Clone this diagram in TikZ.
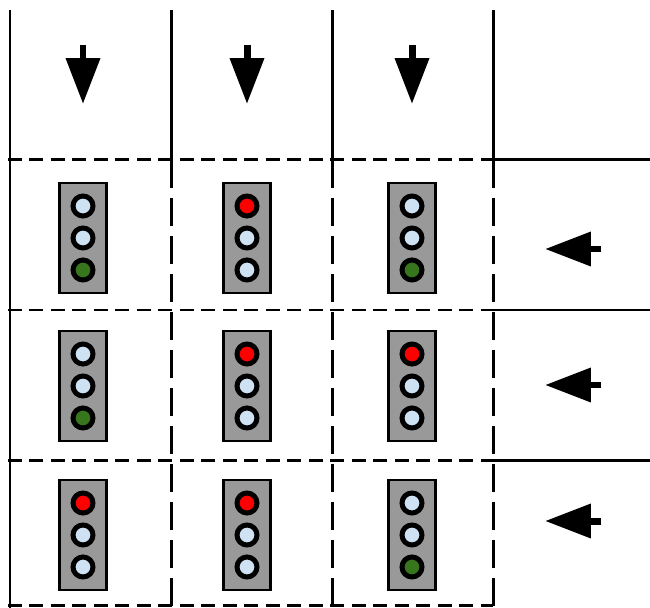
\documentclass[tikz,border=0pt]{standalone}
\usepackage{tikz}
\usetikzlibrary{arrows.meta}

\definecolor{boxgray}{HTML}{999999}
\definecolor{lampoff}{HTML}{CFE2F3}
\definecolor{lampred}{HTML}{FF0000}
\definecolor{lampgreen}{HTML}{38761D}

\tikzset{
  kerb/.style={black, line width=0.06 cm},
  hdash/.style={black, line width=0.06 cm, dash pattern=on 0.28cm off 0.15cm},
  vdash/.style={black, line width=0.06 cm, dash pattern=on 0.56cm off 0.2cm},
  lightbox/.style={draw=black, fill=boxgray, line width=0.05 cm, minimum width=0.95cm, minimum height=2.2cm, inner sep=0pt},
  lamp/.style={circle, draw=black, fill=lampoff, line width=0.1 cm, minimum size=0.4cm, inner sep=0pt},
  flow/.style={black, line width=0.14 cm, -{Triangle[length=0.92cm,width=0.66cm]}}
}

\newcommand{\trafficlight}[4]{% name, position, top lamp, bottom lamp
  \node[lightbox] (#1) at (#2) {};
  \node[lamp, fill=#3] (#1-top) at ([yshift=0.64cm]#1.center) {};
  \node[lamp] (#1-mid) at (#1.center) {};
  \node[lamp, fill=#4] (#1-bot) at ([yshift=-0.64cm]#1.center) {};
}

\begin{document}
\begin{tikzpicture}[x=0.02cm, y=-0.02cm]
\useasboundingbox (0,0) rectangle (650,608);

% lanes
\draw[kerb] (10,10) -- (10,608);
\draw[kerb] (171,10) -- (171,160);
\draw[kerb] (332,10) -- (332,160);
\draw[kerb] (493,10) -- (493,160);
\draw[vdash] (171,160) -- (171,608);
\draw[vdash] (332,160) -- (332,608);
\draw[vdash] (493,160) -- (493,608);

\draw[hdash] (8,160) -- (493,160);
\draw[hdash] (8,310) -- (493,310);
\draw[hdash] (8,460) -- (493,460);
\draw[hdash] (8,605) -- (493,605);
\draw[kerb] (493,160) -- (650,160);
\draw[kerb] (493,310) -- (650,310);
\draw[kerb] (493,460) -- (650,460);

% directions
\draw[flow] (83,45) -- (83,104);
\draw[flow] (247,45) -- (247,104);
\draw[flow] (412,45) -- (412,104);
\draw[flow] (601,249) -- (545,249);
\draw[flow] (601,385) -- (545,385);
\draw[flow] (601,521) -- (545,521);

% signals
\trafficlight{s11}{83,238}{lampoff}{lampgreen}
\trafficlight{s12}{247,238}{lampred}{lampoff}
\trafficlight{s13}{412,238}{lampoff}{lampgreen}
\trafficlight{s21}{83,386}{lampoff}{lampgreen}
\trafficlight{s22}{247,386}{lampred}{lampoff}
\trafficlight{s23}{412,386}{lampred}{lampoff}
\trafficlight{s31}{83,535}{lampred}{lampoff}
\trafficlight{s32}{247,535}{lampred}{lampoff}
\trafficlight{s33}{412,535}{lampoff}{lampgreen}
\end{tikzpicture}
\end{document}
